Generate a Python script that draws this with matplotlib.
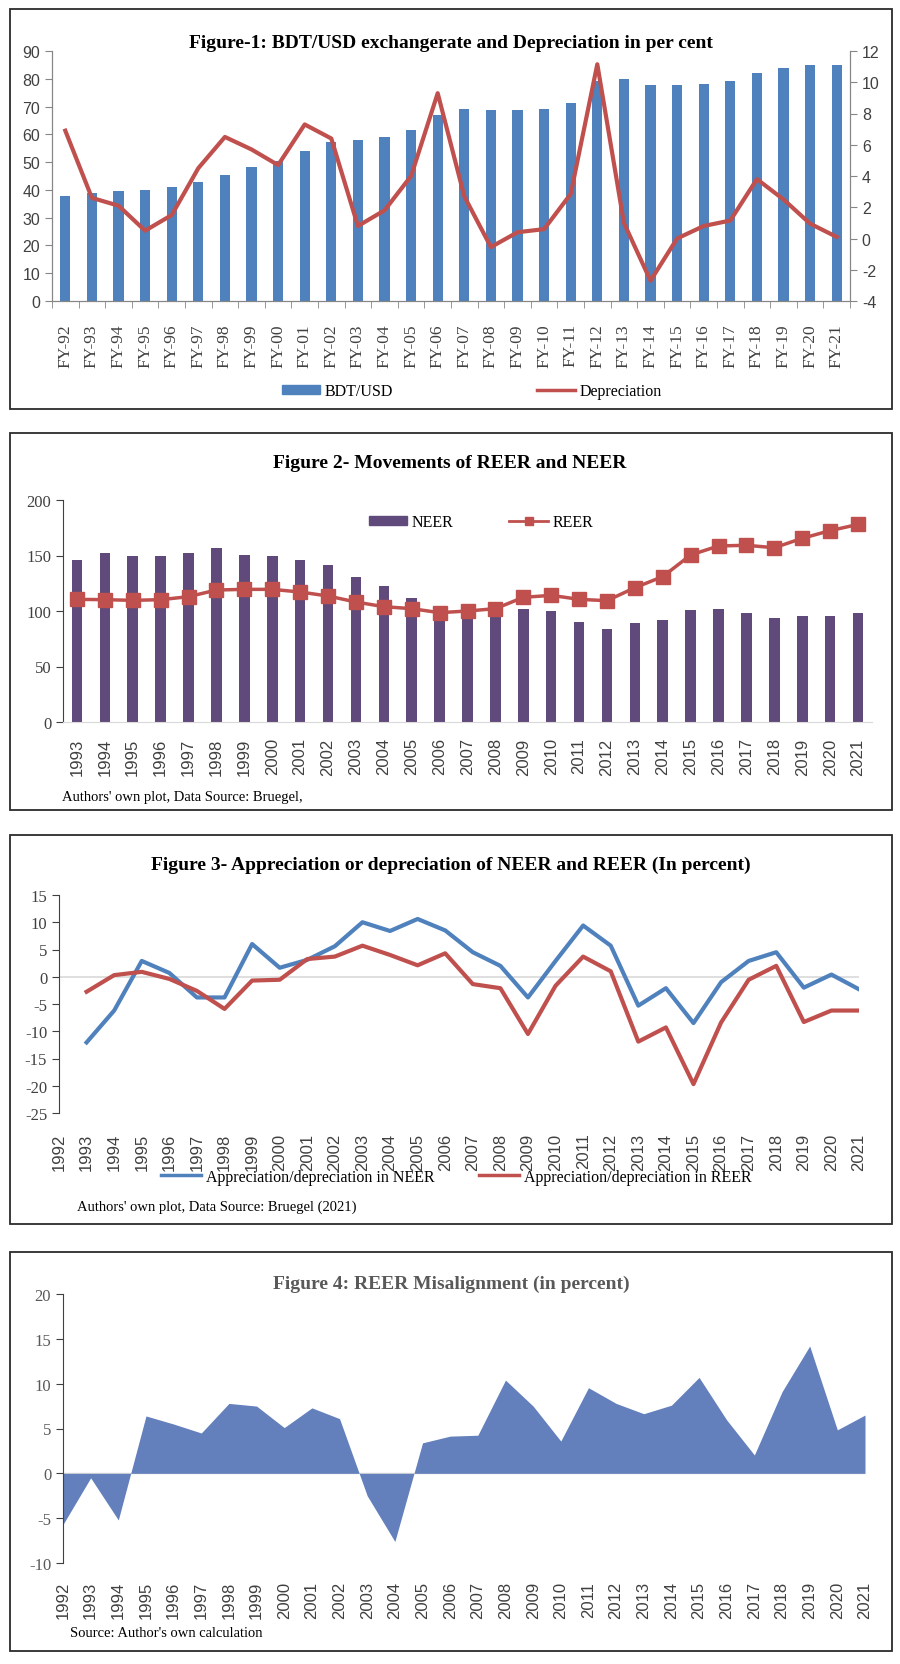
import numpy as np
import matplotlib
matplotlib.use("Agg")
import matplotlib.pyplot as plt
from matplotlib.patches import Rectangle, Patch
from matplotlib.lines import Line2D

plt.rcParams["axes.unicode_minus"] = False

# ---- data ----
fy_labels = ["FY-%02d" % (y % 100) for y in range(1992, 2022)]
bdt_usd = [37.8, 38.9, 39.6, 39.9, 40.9, 42.7, 45.5, 48.1, 50.3, 54.0,
           57.4, 57.9, 58.9, 61.4, 67.1, 69.0, 68.6, 68.8, 69.2, 71.2,
           79.1, 79.9, 77.7, 77.7, 78.3, 79.1, 82.1, 84.0, 84.8, 84.8]
depreciation = [6.9, 2.6, 2.1, 0.5, 1.5, 4.5, 6.5, 5.7, 4.7, 7.3,
                6.4, 0.8, 1.8, 4.0, 9.3, 2.7, -0.55, 0.4, 0.6, 2.85,
                11.15, 1.0, -2.7, 0.0, 0.8, 1.15, 3.8, 2.5, 0.95, 0.1]

years2 = [str(y) for y in range(1993, 2022)]
neer = [146, 152.6, 149.8, 149.8, 152.6, 156.5, 150.7, 149.8, 146, 141.4,
        131, 122.2, 112, 97, 97, 99, 101.5, 99.7, 90, 84,
        89, 92, 100.6, 101.5, 98.5, 93.7, 95.8, 95.8, 98.5]
reer = [110.5, 110.2, 109.6, 110.2, 112.9, 118.9, 119.5, 119.5, 117.1, 113.5,
        108.1, 103.9, 102.1, 98.5, 100, 102.1, 112.3, 114.1, 110.5, 109.3,
        121, 131, 150.5, 158.6, 159.2, 157, 165.5, 172.4, 178]

years3 = [str(y) for y in range(1992, 2022)]
neer_chg = [-12.05, -6.2, 2.9, 0.7, -3.8, -3.8, 6.0, 1.65, 3.1, 5.6,
            10.0, 8.4, 10.6, 8.5, 4.5, 2.0, -3.8, 2.9, 9.4, 5.7,
            -5.3, -2.1, -8.5, -1.0, 2.9, 4.5, -2.0, 0.4, -2.3]
reer_chg = [-2.75, 0.3, 0.9, -0.4, -2.6, -5.9, -0.7, -0.55, 3.25, 3.7,
            5.7, 4.0, 2.1, 4.3, -1.35, -2.1, -10.5, -1.65, 3.7, 1.0,
            -11.9, -9.3, -19.7, -8.4, -0.55, 2.0, -8.3, -6.2, -6.2]

misalignment = [-5.7, -0.5, -5.2, 6.4, 5.5, 4.5, 7.8, 7.5, 5.1, 7.3,
                6.1, -2.5, -7.6, 3.4, 4.15, 4.25, 10.4, 7.5, 3.6, 9.55,
                7.8, 6.65, 7.6, 10.7, 5.95, 2.05, 9.1, 14.2, 4.85, 6.5]

W, H = 900, 1665
SERIF = "Liberation Serif"
SANS = "Liberation Sans"
TXT = "#404040"

fig = plt.figure(figsize=(W / 100, H / 100), dpi=100)


def ax_px(x0, y0, x1, y1):
    return fig.add_axes([x0 / W, 1 - y1 / H, (x1 - x0) / W, (y1 - y0) / H])


def box(x0, y0, x1, y1):
    fig.add_artist(Rectangle((x0 / W, 1 - y1 / H), (x1 - x0) / W, (y1 - y0) / H,
                             transform=fig.transFigure, fill=False,
                             ec="#2b2b2b", lw=1.3))


def ftext(x, y, s, **kw):
    fig.text(x / W, 1 - y / H, s, **kw)


# ---- Figure 1 ----
box(10, 10, 892, 410)
ax1 = ax_px(52, 52, 850, 302)
x1 = np.arange(len(fy_labels))
ax1.bar(x1, bdt_usd, width=0.38, color="#4F81BD", zorder=2)
ax1.set_xlim(-0.5, len(fy_labels) - 0.5)
ax1.set_ylim(0, 90)
ax1.set_yticks(range(0, 91, 10))
ax1.set_xticks(x1)
ax1.set_xticklabels(fy_labels, rotation=90, family=SERIF, fontsize=12.5, color=TXT)
ax1.set_xticks(np.arange(-0.5, len(fy_labels)), minor=True)
ax1.tick_params(axis="x", which="major", length=0, pad=16)
ax1.tick_params(axis="x", which="minor", length=5, color="#868686")
ax1.tick_params(axis="y", length=5, color="#868686", labelsize=11.5, labelcolor=TXT)
for t in ax1.get_yticklabels():
    t.set_family(SANS)
ax1.spines["top"].set_visible(False)
for s in ["left", "bottom", "right"]:
    ax1.spines[s].set_color("#868686")

ax1b = ax1.twinx()
ax1b.plot(x1, depreciation, color="#C0504D", lw=3, zorder=3)
ax1b.set_ylim(-4, 12)
ax1b.set_yticks(range(-4, 13, 2))
ax1b.tick_params(axis="y", length=5, color="#868686", labelsize=11.5, labelcolor=TXT)
for t in ax1b.get_yticklabels():
    t.set_family(SANS)
ax1b.spines["top"].set_visible(False)
for s in ["left", "bottom", "right"]:
    ax1b.spines[s].set_color("#868686")

ftext(451, 43, "Figure-1: BDT/USD exchangerate and Depreciation in per cent",
      ha="center", va="center", family=SERIF, weight="bold", fontsize=14)
fig.legend(handles=[Patch(color="#4F81BD", label="BDT/USD"),
                    Line2D([], [], color="#C0504D", lw=2.5, label="Depreciation")],
           loc="center", bbox_to_anchor=(472 / W, 1 - 392 / H), ncol=2,
           frameon=False, prop={"family": SERIF, "size": 11.5},
           handlelength=2.4, handleheight=0.5, handletextpad=0.3, columnspacing=9.0)

# ---- Figure 2 ----
box(10, 434, 892, 811)
ax2 = ax_px(63, 501, 872, 723)
x2 = np.arange(len(years2))
ax2.bar(x2, neer, width=0.38, color="#604A7B", zorder=2)
ax2.plot(x2, reer, color="#C0504D", lw=2.5, marker="s", markersize=9.5, zorder=3)
ax2.set_xlim(-0.5, len(years2) - 0.5)
ax2.set_ylim(0, 200)
ax2.set_yticks(range(0, 201, 50))
ax2.set_xticks(x2)
ax2.set_xticklabels(years2, rotation=90, family=SANS, fontsize=12, color=TXT)
ax2.tick_params(axis="x", length=0, pad=11)
ax2.tick_params(axis="y", length=5, color="#404040", labelsize=12, labelcolor=TXT)
for t in ax2.get_yticklabels():
    t.set_family(SERIF)
ax2.spines["top"].set_visible(False)
ax2.spines["right"].set_visible(False)
ax2.spines["bottom"].set_color("#D9D9D9")
ax2.spines["left"].set_color("#404040")
ax2.legend(handles=[Patch(color="#604A7B", label="NEER"),
                    Line2D([], [], color="#C0504D", lw=2, marker="s", markersize=6,
                           label="REER")],
           loc="center", bbox_to_anchor=(481 / W, 1 - 523 / H),
           bbox_transform=fig.transFigure, ncol=2, frameon=False,
           prop={"family": SERIF, "size": 11.5}, handlelength=2.4,
           handleheight=0.5, handletextpad=0.3, columnspacing=3.5)
ftext(450, 464, "Figure 2- Movements of REER and NEER",
      ha="center", va="center", family=SERIF, weight="bold", fontsize=14)
ftext(62, 797, "Authors' own plot, Data Source: Bruegel,",
      ha="left", va="center", family=SERIF, fontsize=10.5)

# ---- Figure 3 ----
box(10, 836, 892, 1225)
ax3 = ax_px(59, 896, 859, 1114)
x3 = np.arange(len(years3))
ax3.axhline(0, color="#D9D9D9", lw=1.2, zorder=1)
ax3.plot(x3[1:], neer_chg, color="#4F81BD", lw=3, zorder=3)
ax3.plot(x3[1:], reer_chg, color="#C0504D", lw=3, zorder=3)
ax3.set_xlim(0, len(years3) - 1)
ax3.set_ylim(-25, 15)
ax3.set_yticks(range(-25, 16, 5))
ax3.set_xticks(x3)
ax3.set_xticklabels(years3, rotation=90, family=SANS, fontsize=12, color=TXT)
ax3.tick_params(axis="x", length=0, pad=14)
ax3.tick_params(axis="y", length=5, color="#404040", labelsize=12, labelcolor=TXT)
for t in ax3.get_yticklabels():
    t.set_family(SERIF)
for s in ["top", "right", "bottom"]:
    ax3.spines[s].set_visible(False)
ax3.spines["left"].set_color("#404040")
fig.legend(handles=[Line2D([], [], color="#4F81BD", lw=2.5,
                           label="Appreciation/depreciation in NEER"),
                    Line2D([], [], color="#C0504D", lw=2.5,
                           label="Appreciation/depreciation in REER")],
           loc="center", bbox_to_anchor=(456 / W, 1 - 1178 / H), ncol=2,
           frameon=False, prop={"family": SERIF, "size": 11.5},
           handlelength=2.5, handletextpad=0.3, columnspacing=2.8)
ftext(451, 865, "Figure 3- Appreciation or depreciation of NEER and REER (In percent)",
      ha="center", va="center", family=SERIF, weight="bold", fontsize=14)
ftext(77, 1207, "Authors' own plot, Data Source: Bruegel (2021)",
      ha="left", va="center", family=SERIF, fontsize=10.5)

# ---- Figure 4 ----
box(10, 1253, 892, 1652)
ax4 = ax_px(63, 1295, 865, 1564)
x4 = np.arange(len(years3))
ax4.fill_between(x4, 0, misalignment, color="#6380BC", lw=0, zorder=2)
ax4.axhline(0, color="#D9D9D9", lw=1, zorder=1)
ax4.set_xlim(0, len(years3) - 1)
ax4.set_ylim(-10, 20)
ax4.set_yticks(range(-10, 21, 5))
ax4.set_xticks(x4)
ax4.set_xticklabels(years3, rotation=90, family=SANS, fontsize=12, color=TXT)
ax4.tick_params(axis="x", length=0, pad=13)
ax4.tick_params(axis="y", length=5, color="#404040", labelsize=12, labelcolor="#595959")
for t in ax4.get_yticklabels():
    t.set_family(SERIF)
for s in ["top", "right", "bottom"]:
    ax4.spines[s].set_visible(False)
ax4.spines["left"].set_color("#404040")
ftext(451, 1284, "Figure 4: REER Misalignment (in percent)",
      ha="center", va="center", family=SERIF, weight="bold", fontsize=14,
      color="#595959")
ftext(70, 1634, "Source: Author's own calculation",
      ha="left", va="center", family=SERIF, fontsize=10.5)

fig.savefig("out.png", dpi=100)
